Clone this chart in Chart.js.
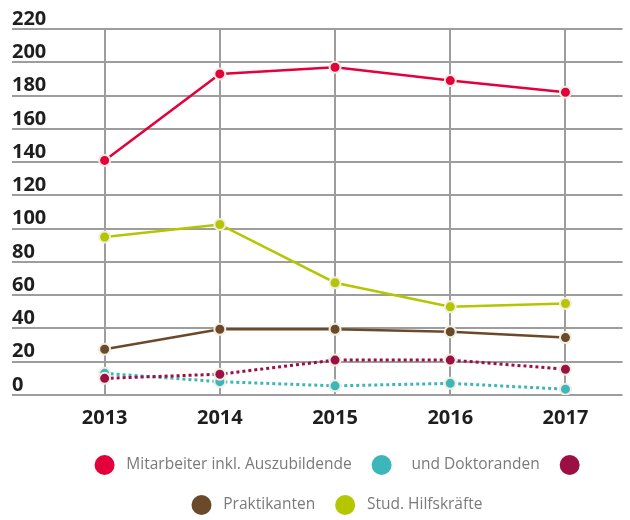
<!DOCTYPE html>
<html>
<head>
<meta charset="utf-8">
<script src="https://cdn.jsdelivr.net/npm/chart.js"></script>
<style>
  body { margin: 0; background: #fff; }
  #wrap { width: 630px; height: 520px; }
</style>
</head>
<body>
<div id="wrap"><canvas id="mycanvas"></canvas></div>
<script>
var years = [2013, 2014, 2015, 2016, 2017];
var yTicks = [0, 20, 40, 60, 80, 100, 120, 140, 160, 180, 200, 220];

var mitarbeiter = [141, 193, 197, 189, 182];
var doktoranden = [13, 8, 5.5, 7, 3.5];
var gaeste = [10, 12.5, 21, 21, 15.5];
var praktikanten = [27.5, 39.5, 39.5, 38, 34.5];
var hilfskraefte = [95, 102.5, 67.5, 53, 55];

var ring = "#efeee0";

function serie(label, data, color, dotted, order) {
	return {
		label: label,
		data: data,
		borderColor: color,
		backgroundColor: color,
		borderWidth: dotted ? 3 : 2.5,
		borderDash: dotted ? [3, 3] : [],
		pointRadius: 5.5,
		pointBorderWidth: 2,
		pointBackgroundColor: color,
		pointBorderColor: ring,
		pointHoverRadius: 5.5,
		fill: false,
		tension: 0,
		order: order
	};
}

// legende etwas nach rechts/oben schieben (wie im original)
var legendShift = {
	id: "legendShift",
	afterLayout: function(chart) {
		chart.legend.left = 57;
		chart.legend.right = 625;
		chart.legend.top -= 6;
	}
};

Chart.defaults.font.family = "'Open Sans', sans-serif";

var ctx = document.getElementById("mycanvas");
var chart = new Chart(ctx, {
	type: "line",
	data: {
		labels: years,
		datasets: [
			serie("Mitarbeiter inkl. Auszubildende", mitarbeiter, "#e3003b", false, 0),
			serie("  und Doktoranden", doktoranden, "#3db6ba", true, 2),
			serie("", gaeste, "#9c0f44", true, 1),
			serie("Praktikanten", praktikanten, "#6a4a2a", false, 3),
			serie("Stud. Hilfskräfte  ", hilfskraefte, "#b3c600", false, 4)
		]
	},
	options: {
		responsive: true,
		maintainAspectRatio: false,
		animation: false,
		layout: { padding: { left: 12, right: 2.5, top: 29, bottom: 0 } },
		scales: {
			x: {
				type: "linear",
				min: 2012.196,
				max: 2017.495,
				afterBuildTicks: function(axis) {
					axis.ticks = years.map(function(v) { return { value: v }; });
				},
				grid: { color: "#9d9d9d", lineWidth: 2, drawTicks: false },
				border: { display: false },
				ticks: {
					padding: 11,
					color: "#1e1e1e",
					font: { size: 20, weight: "bold" },
					callback: function(v) { return String(v); }
				}
			},
			y: {
				min: 0,
				max: 220,
				afterBuildTicks: function(axis) {
					axis.ticks = yTicks.map(function(v) { return { value: v }; });
				},
				grid: { color: "#9d9d9d", lineWidth: 2, drawTicks: false },
				border: { display: false },
				ticks: {
					mirror: true,
					padding: 0,
					labelOffset: -10,
					color: "#1e1e1e",
					font: { size: 20, weight: "bold" }
				}
			}
		},
		plugins: {
			tooltip: { enabled: false },
			legend: {
				position: "bottom",
				maxHeight: 79,
				labels: {
					color: "#7a7a7a",
					font: { size: 15.5 },
					boxWidth: 20,
					boxHeight: 20,
					useBorderRadius: true,
					borderRadius: 10,
					padding: 20,
					sort: function(a, b) { return a.datasetIndex - b.datasetIndex; },
					generateLabels: function(chart) {
						return chart.data.datasets.map(function(ds, i) {
							return {
								text: ds.label ? " " + ds.label : "",
								fillStyle: ds.borderColor,
								strokeStyle: ds.borderColor,
								lineWidth: 0,
								fontColor: "#7a7a7a",
								datasetIndex: i,
								borderRadius: 10
							};
						});
					}
				}
			}
		}
	},
	plugins: [legendShift]
});
</script>
</body>
</html>
